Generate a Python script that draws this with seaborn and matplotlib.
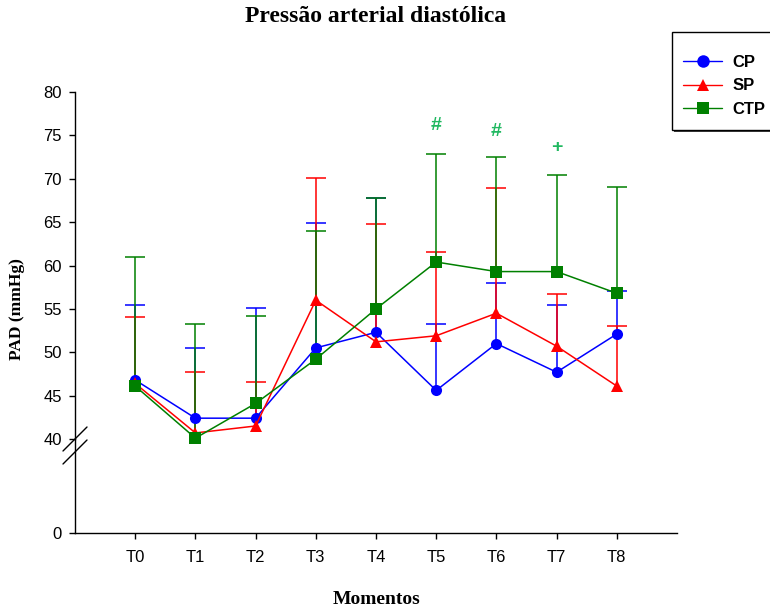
import matplotlib.pyplot as plt
from matplotlib.lines import Line2D
from matplotlib.patches import Rectangle
import numpy as np
import pandas as pd
import seaborn as sns

moments = ["T0", "T1", "T2", "T3", "T4", "T5", "T6", "T7", "T8"]
groups = ["CP", "SP", "CTP"]

cp_mean = [46.8, 42.4, 42.4, 50.5, 52.3, 45.6, 51.0, 47.7, 52.1]
sp_mean = [46.4, 40.7, 41.5, 56.0, 51.2, 51.9, 54.5, 50.7, 46.1]
ctp_mean = [46.1, 40.1, 44.1, 49.2, 55.0, 60.4, 59.3, 59.3, 56.8]

# top of the error bars (mean + SD)
cp_upper = [55.4, 50.5, 55.1, 64.9, 67.8, 53.3, 58.0, 55.4, 57.1]
sp_upper = [54.1, 47.7, 46.6, 70.1, 64.8, 61.5, 68.9, 56.7, 53.0]
ctp_upper = [61.0, 53.3, 54.2, 64.0, 67.8, 72.8, 72.5, 70.4, 69.0]

marks = ["#", "#", "+"]
mark_moments = ["T5", "T6", "T7"]
mark_y = [76.1, 75.5, 73.6]

colors = {"CP": "#0000ff", "SP": "#ff0000", "CTP": "#008000"}
markers = {"CP": "o", "SP": "^", "CTP": "s"}


def main():
    sns.set_theme(style="ticks")
    plt.rcParams["font.family"] = ["Liberation Sans", "DejaVu Sans"]
    plt.rcParams["text.color"] = "black"

    means = {"CP": cp_mean, "SP": sp_mean, "CTP": ctp_mean}
    uppers = {"CP": cp_upper, "SP": sp_upper, "CTP": ctp_upper}
    rows = []
    for g in groups:
        for i, m in enumerate(moments):
            rows.append({"Grupo": g, "pos": i, "PAD": means[g][i]})
    df = pd.DataFrame(rows)

    W, H = 770, 609
    fig = plt.figure(figsize=(7.7, 6.09), dpi=100)
    left, right = 75 / W, 677 / W
    ax = fig.add_axes([left, 1 - 439 / H, right - left, (439 - 92) / H])
    axb = fig.add_axes([left, 1 - 533 / H, right - left, (533 - 439) / H])

    x = np.arange(len(moments))
    for g in groups:
        err = np.array(uppers[g]) - np.array(means[g])
        _, caps, _ = ax.errorbar(x, means[g], yerr=[np.zeros_like(err), err],
                                 fmt="none", ecolor=colors[g], elinewidth=1.1,
                                 capsize=7, capthick=1.1, clip_on=False,
                                 zorder=2)
        caps[0].set_visible(False)  # only the upper half of the bars
    sns.lineplot(data=df, x="pos", y="PAD", hue="Grupo", style="Grupo",
                 markers=markers, dashes=False, palette=colors, ax=ax,
                 linewidth=1.1, markersize=8, markeredgewidth=0,
                 legend=False, clip_on=False, zorder=3)

    for t, m, yv in zip(marks, mark_moments, mark_y):
        ax.text(moments.index(m), yv, t, color="#20b860", ha="center",
                va="center", fontsize=14, fontweight="bold")

    ax.set_xlim(-1, 9)
    ax.set_ylim(40, 80)
    ax.set_yticks(range(40, 81, 5))
    ax.set_xticks([])
    ax.set_xlabel("")
    ax.set_ylabel("")
    for s in ["top", "right", "bottom"]:
        ax.spines[s].set_visible(False)

    axb.set_xlim(-1, 9)
    axb.set_ylim(0, 40)
    axb.set_yticks([0])
    axb.set_xticks(x)
    axb.set_xticklabels(moments)
    axb.set_xlabel("")
    axb.set_ylabel("")
    for s in ["top", "right"]:
        axb.spines[s].set_visible(False)

    for a in (ax, axb):
        a.set_facecolor("none")
        a.spines["left"].set_linewidth(1.0)
        a.spines["bottom"].set_linewidth(1.0)
        a.spines["left"].set_color("black")
        a.spines["bottom"].set_color("black")
        a.tick_params(axis="both", labelsize=12, length=4.3, width=1.0,
                      colors="black", labelcolor="black")
        a.tick_params(axis="y", pad=5)
        a.tick_params(axis="x", pad=8)

    # axis break marks
    for y0 in (451, 464):
        fig.add_artist(Line2D([63 / W, 87 / W], [1 - y0 / H, 1 - (y0 - 24) / H],
                              color="black", linewidth=1.0))

    serif = ["Liberation Serif", "DejaVu Serif"]
    fig.text(376 / W, 1 - 17 / H, "Pressão arterial diastólica", ha="center",
             va="center", fontsize=17, fontweight="bold", family=serif)
    fig.text(377 / W, 1 - 599 / H, "Momentos", ha="center", va="center",
             fontsize=14, fontweight="bold", family=serif)
    fig.text(17 / W, 1 - 309 / H, "PAD (mmHg)", ha="center", va="center",
             rotation=90, fontsize=12.5, fontweight="bold", family=serif)

    # legend box with a small shadow, then the entries inside it
    fig.add_artist(Rectangle((674 / W, 1 - 132 / H), 120 / W, 98 / H,
                             transform=fig.transFigure, facecolor="#404040",
                             edgecolor="none", zorder=4))
    fig.add_artist(Rectangle((672 / W, 1 - 130 / H), 120 / W, 98 / H,
                             transform=fig.transFigure, facecolor="white",
                             edgecolor="black", linewidth=1.0, zorder=5))
    handles = [Line2D([], [], color=colors[g], marker=markers[g], markersize=9,
                      markeredgewidth=0, linewidth=1.0) for g in groups]
    leg = fig.legend(handles, groups, loc="upper left",
                     bbox_to_anchor=(683 / W, 1 - 55 / H), frameon=False,
                     prop={"weight": "bold", "size": 12}, handlelength=2.35,
                     borderpad=0, labelspacing=0.5, handletextpad=0.6,
                     borderaxespad=0)
    leg.set_zorder(6)

    fig.savefig("out.png", dpi=100)


if __name__ == "__main__":
    main()
